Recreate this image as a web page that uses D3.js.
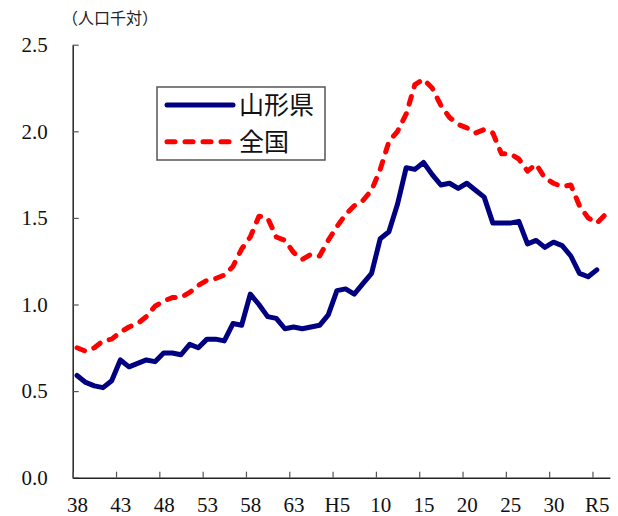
<!DOCTYPE html>
<html>
<head>
<meta charset="utf-8">
<script src="https://cdn.jsdelivr.net/npm/d3@7"></script>
<style>
  body { margin: 0; background: #fff; }
  .axis text { font-family: "Liberation Serif", "DejaVu Serif", serif; font-size: 21px; fill: #111; }
</style>
</head>
<body>
<div id="chart"></div>
<script>
// x slots: 62 slots, label every 5 slots
const slotCount = 62;
const tickLabels = ["38", "43", "48", "53", "58", "63", "H5", "10", "15", "20", "25", "30", "R5"];
const yTicks = [0, 0.5, 1.0, 1.5, 2.0, 2.5];

const seriesNames = ["山形県", "全国"];

// 山形県 (61 values)
const yamagata = [
  0.59, 0.55, 0.53, 0.52, 0.56, 0.68, 0.64, 0.66, 0.68, 0.67,
  0.72, 0.72, 0.71, 0.77, 0.75, 0.80, 0.80, 0.79, 0.89, 0.88,
  1.06, 1.00, 0.93, 0.92, 0.86, 0.87, 0.86, 0.87, 0.88, 0.94,
  1.08, 1.09, 1.06, 1.12, 1.18, 1.38, 1.42, 1.58, 1.79, 1.78,
  1.82, 1.75, 1.69, 1.70, 1.67, 1.70, 1.66, 1.62, 1.47, 1.47,
  1.47, 1.48, 1.35, 1.37, 1.33, 1.36, 1.34, 1.28, 1.18, 1.16,
  1.20
];

// 全国 (62 values)
const national = [
  0.75, 0.73, 0.75, 0.79, 0.80, 0.84, 0.87, 0.89, 0.93, 0.99,
  1.02, 1.04, 1.04, 1.07, 1.11, 1.14, 1.15, 1.17, 1.22, 1.32,
  1.39, 1.51, 1.50, 1.39, 1.37, 1.30, 1.26, 1.29, 1.28, 1.37,
  1.45, 1.52, 1.57, 1.60, 1.66, 1.78, 1.94, 2.00, 2.10, 2.27,
  2.30, 2.25, 2.15, 2.08, 2.04, 2.02, 1.99, 2.01, 1.99, 1.87,
  1.87, 1.84, 1.77, 1.81, 1.73, 1.70, 1.68, 1.69, 1.57, 1.50,
  1.47, 1.52
];

const W = 618, H = 516;
const plot = { left: 72.7, right: 609.8, top: 44.7, bottom: 477.7 };

const svg = d3.select("#chart")
    .append("svg")
    .attr("width", W)
    .attr("height", H);

svg.append("rect").attr("width", W).attr("height", H).attr("fill", "#fff");

const x = d3.scaleLinear()
    .domain([0, slotCount])
    .range([plot.left, plot.right]);

const y = d3.scaleLinear()
    .domain([0, 2.5])
    .range([plot.bottom, plot.top]);

// y axis - ticks point inward
svg.append("g")
    .attr("class", "axis")
    .attr("transform", `translate(${plot.left},0)`)
    .call(d3.axisLeft(y)
        .tickValues(yTicks)
        .tickSizeInner(-6)
        .tickSizeOuter(0)
        .tickPadding(25)
        .tickFormat(d3.format(".1f")));

// x axis - ticks between slots, labels at slot centres
const half = (x(1) - x(0)) / 2;
const xAxis = svg.append("g")
    .attr("class", "axis")
    .attr("transform", `translate(0,${plot.bottom})`)
    .call(d3.axisBottom(x)
        .tickValues(d3.range(0, 61, 5))
        .tickSizeInner(-6)
        .tickSizeOuter(0)
        .tickPadding(19)
        .tickFormat((d, i) => tickLabels[i]));

xAxis.selectAll("text").attr("dx", half);

svg.selectAll(".axis .domain").attr("stroke", "#222").attr("stroke-width", 1.5);
svg.selectAll(".axis .tick line").attr("stroke", "#555").attr("stroke-width", 1.2);

// unit label
svg.append("text")
    .attr("x", 62)
    .attr("y", 24)
    .attr("font-family", "'Noto Sans CJK JP', sans-serif")
    .attr("font-size", 16)
    .attr("fill", "#222")
    .text("（人口千対）");

const line = d3.line()
    .x((d, i) => x(i + 0.5))
    .y(d => y(d));

svg.append("path")
    .datum(national)
    .attr("d", line)
    .attr("fill", "none")
    .attr("stroke", "#ff0000")
    .attr("stroke-width", 5)
    .attr("stroke-dasharray", "8,10")
    .attr("stroke-linecap", "round")
    .attr("stroke-linejoin", "round");

svg.append("path")
    .datum(yamagata)
    .attr("d", line)
    .attr("fill", "none")
    .attr("stroke", "#000080")
    .attr("stroke-width", 5)
    .attr("stroke-linecap", "round")
    .attr("stroke-linejoin", "round");

// legend
const legend = svg.append("g").attr("transform", "translate(157,87)");
legend.append("rect")
    .attr("width", 168)
    .attr("height", 73)
    .attr("fill", "#fff")
    .attr("stroke", "#555")
    .attr("stroke-width", 1.5);

const legendStyles = [
    { color: "#000080", dash: null },
    { color: "#ff0000", dash: "8,10" }
];

seriesNames.forEach((name, i) => {
    const ly = 18 + i * 36.7;
    legend.append("line")
        .attr("x1", 10).attr("x2", 76)
        .attr("y1", ly).attr("y2", ly)
        .attr("stroke", legendStyles[i].color)
        .attr("stroke-width", 5)
        .attr("stroke-linecap", "round")
        .attr("stroke-dasharray", legendStyles[i].dash);
    legend.append("text")
        .attr("x", 82)
        .attr("y", ly)
        .attr("dy", "0.36em")
        .attr("font-family", "'Noto Sans CJK JP', sans-serif")
        .attr("font-size", 25)
        .attr("fill", "#111")
        .text(name);
});
</script>
</body>
</html>
